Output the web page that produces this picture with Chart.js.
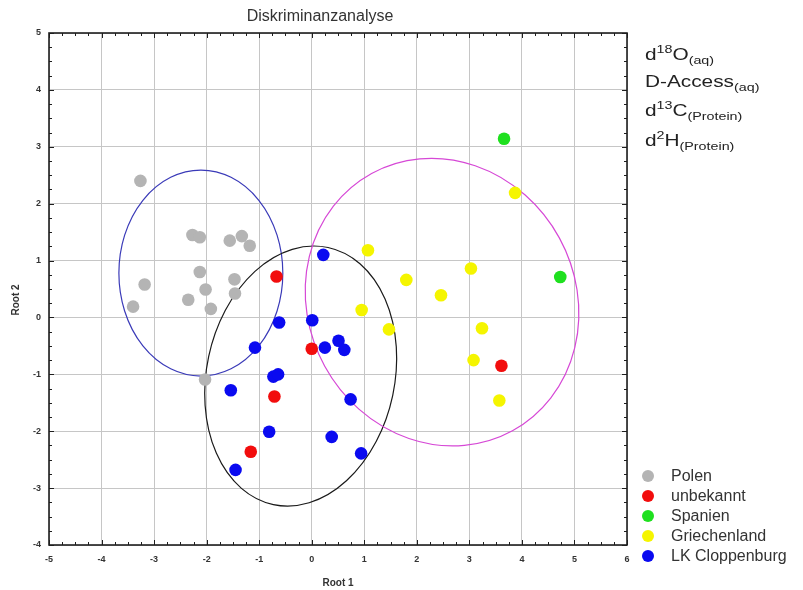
<!DOCTYPE html>
<html>
<head>
<meta charset="utf-8">
<title>Diskriminanzanalyse</title>
<script src="https://cdn.jsdelivr.net/npm/chart.js@4.4.1/dist/chart.umd.min.js"></script>
<style>
  html, body { margin: 0; padding: 0; background: #fff; }
  #chart { display: block; }
</style>
</head>
<body>
<canvas id="chart" width="803" height="590"></canvas>
<script>
// Discriminant scores (Root 1 / Root 2) per origin group
const groupNames = ['Polen', 'unbekannt', 'Spanien', 'Griechenland', 'LK Cloppenburg'];

const polenX = [-3.26, -2.27, -2.13, -1.56, -1.33, -1.18, -2.13, -3.18, -1.47, -2.02, -2.35, -1.46, -3.40, -1.92, -2.03];
const polenY = [2.40, 1.45, 1.41, 1.35, 1.43, 1.26, 0.80, 0.58, 0.67, 0.49, 0.31, 0.42, 0.19, 0.15, -1.09];

const unbekanntX = [-0.67, 0.00, -0.71, -1.16, 3.61];
const unbekanntY = [0.72, -0.55, -1.39, -2.36, -0.85];

const spanienX = [3.66, 4.73];
const spanienY = [3.14, 0.71];

const griechenlandX = [3.87, 1.07, 3.03, 1.80, 2.46, 0.95, 1.47, 3.24, 3.08, 3.57];
const griechenlandY = [2.19, 1.18, 0.86, 0.66, 0.39, 0.13, -0.21, -0.19, -0.75, -1.46];

const cloppenburgX = [0.22, -0.62, 0.01, -1.08, 0.25, 0.51, 0.62, -0.73, -0.64, -1.54, 0.74, -0.81, 0.38, 0.94, -1.45];
const cloppenburgY = [1.10, -0.09, -0.05, -0.53, -0.53, -0.41, -0.57, -1.04, -1.00, -1.28, -1.44, -2.01, -2.10, -2.39, -2.68];

// Confidence ellipses: centre, semi-axes (root units), tilt in degrees
const ellipseX = [-2.11, -0.21, 2.48];
const ellipseY = [0.78, -1.03, 0.27];
const ellipseRx = [1.56, 1.79, 2.545];
const ellipseRy = [1.81, 2.31, 2.578];
const ellipseTilt = [0, 12, -28.7];

// Axis ranges
const xMin = -5, xMax = 6;
const yMin = -4, yMax = 5;

const groupColors = ['#b4b4b4', '#f20d0d', '#1fe01f', '#f5f500', '#0a0af0'];
const ellipseColors = ['#3a3ab8', '#1a1a1a', '#d648d6'];

const FONT = '"Liberation Sans", Arial, sans-serif';

function toPoints(xs, ys) {
  return xs.map((x, i) => ({ x: x, y: ys[i] }));
}

const groupData = [
  toPoints(polenX, polenY),
  toPoints(unbekanntX, unbekanntY),
  toPoints(spanienX, spanienY),
  toPoints(griechenlandX, griechenlandY),
  toPoints(cloppenburgX, cloppenburgY)
];

// Text with sub/superscripts, stretched a little to match the original
function drawRich(ctx, parts, x, y, sx) {
  ctx.save();
  ctx.translate(x, y);
  ctx.scale(sx, 1);
  let cx = 0;
  parts.forEach(([txt, kind]) => {
    ctx.font = kind ? '11px ' + FONT : '16px ' + FONT;
    const dy = kind === 'sup' ? -7 : kind === 'sub' ? 4 : 0;
    ctx.fillText(txt, cx, dy);
    cx += ctx.measureText(txt).width;
  });
  ctx.restore();
}

const variableLines = [
  [['d', ''], ['18', 'sup'], ['O', ''], ['(aq)', 'sub']],
  [['D-Access', ''], ['(aq)', 'sub']],
  [['d', ''], ['13', 'sup'], ['C', ''], ['(Protein)', 'sub']],
  [['d', ''], ['2', 'sup'], ['H', ''], ['(Protein)', 'sub']]
];

const framePlugin = {
  id: 'frame',
  beforeDatasetsDraw(chart) {
    const { ctx, chartArea: a, scales: { x, y } } = chart;
    ctx.save();
    ctx.beginPath();
    ctx.rect(a.left, a.top, a.right - a.left, a.bottom - a.top);
    ctx.clip();
    ellipseX.forEach((cx, i) => {
      const px = x.getPixelForValue(cx);
      const py = y.getPixelForValue(ellipseY[i]);
      const rx = x.getPixelForValue(cx + ellipseRx[i]) - px;
      const ry = py - y.getPixelForValue(ellipseY[i] + ellipseRy[i]);
      ctx.beginPath();
      ctx.ellipse(px, py, rx, ry, ellipseTilt[i] * Math.PI / 180, 0, Math.PI * 2);
      ctx.strokeStyle = ellipseColors[i];
      ctx.lineWidth = 1.2;
      ctx.stroke();
    });
    ctx.restore();
  },
  afterDraw(chart) {
    const { ctx, chartArea: a, scales: { x, y } } = chart;
    ctx.save();

    // plot box
    ctx.strokeStyle = '#1e1e1e';
    ctx.lineWidth = 1.6;
    ctx.strokeRect(a.left, a.top, a.right - a.left, a.bottom - a.top);

    // inward ticks every 0.25
    ctx.lineWidth = 1;
    ctx.beginPath();
    for (let k = xMin * 4; k <= xMax * 4; k++) {
      const px = Math.round(x.getPixelForValue(k / 4)) + 0.5;
      const len = k % 4 === 0 ? 5 : 3;
      ctx.moveTo(px, a.top); ctx.lineTo(px, a.top + len);
      ctx.moveTo(px, a.bottom); ctx.lineTo(px, a.bottom - len);
    }
    for (let k = yMin * 4; k <= yMax * 4; k++) {
      const py = Math.round(y.getPixelForValue(k / 4)) + 0.5;
      const len = k % 4 === 0 ? 5 : 3;
      ctx.moveTo(a.left, py); ctx.lineTo(a.left + len, py);
      ctx.moveTo(a.right, py); ctx.lineTo(a.right - len, py);
    }
    ctx.stroke();

    // title
    ctx.fillStyle = '#333';
    ctx.font = '16px ' + FONT;
    ctx.textAlign = 'center';
    ctx.textBaseline = 'alphabetic';
    ctx.fillText('Diskriminanzanalyse', 320, 21);

    // axis titles
    ctx.font = 'bold 10px ' + FONT;
    ctx.fillText('Root 1', (a.left + a.right) / 2, 586);
    ctx.save();
    ctx.translate(19, 300);
    ctx.rotate(-Math.PI / 2);
    ctx.fillText('Root 2', 0, 0);
    ctx.restore();

    // discriminant variables
    ctx.fillStyle = '#222';
    ctx.textAlign = 'left';
    const baselines = [60, 87, 116, 146];
    variableLines.forEach((parts, i) => drawRich(ctx, parts, 645, baselines[i], 1.3));

    // legend
    ctx.font = '16px ' + FONT;
    ctx.textBaseline = 'middle';
    chart.data.datasets.forEach((ds, i) => {
      const ly = 476 + i * 20;
      ctx.beginPath();
      ctx.arc(648, ly, 6, 0, Math.PI * 2);
      ctx.fillStyle = ds.backgroundColor;
      ctx.fill();
      ctx.fillStyle = '#333';
      ctx.fillText(ds.label, 671, ly + 1);
    });

    ctx.restore();
  }
};

const tickFont = { family: FONT, size: 9, weight: 'bold' };

new Chart(document.getElementById('chart'), {
  type: 'scatter',
  data: {
    datasets: groupNames.map((name, i) => ({
      label: name,
      data: groupData[i],
      backgroundColor: groupColors[i],
      borderWidth: 0,
      pointRadius: 6.3,
      pointHoverRadius: 6.3
    }))
  },
  options: {
    responsive: false,
    animation: false,
    layout: { padding: { top: 33, right: 176, left: 0, bottom: 0 } },
    plugins: {
      legend: { display: false },
      tooltip: { enabled: false },
      title: { display: false }
    },
    scales: {
      x: {
        type: 'linear',
        min: xMin,
        max: xMax,
        afterFit(scale) { scale.height = 45; },
        ticks: { stepSize: 1, padding: 9, color: '#333', font: tickFont },
        grid: { color: '#c6c6c6', lineWidth: 1, drawTicks: false },
        border: { display: false }
      },
      y: {
        type: 'linear',
        min: yMin,
        max: yMax,
        afterFit(scale) { scale.width = 49; },
        ticks: { stepSize: 1, padding: 8, color: '#333', font: tickFont },
        grid: { color: '#c6c6c6', lineWidth: 1, drawTicks: false },
        border: { display: false }
      }
    }
  },
  plugins: [framePlugin]
});
</script>
</body>
</html>
